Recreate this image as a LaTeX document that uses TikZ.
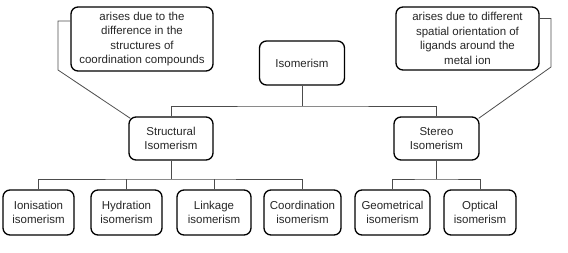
\documentclass[tikz,border=0pt]{standalone}
\usepackage{fontspec}
\setmainfont{Liberation Sans}
\begin{document}
\begin{tikzpicture}[x=1pt,y=-1pt,
  box/.style={draw=black,line width=1.3pt,rounded corners=7pt,align=center,
    inner sep=1pt,font=\fontsize{11.5}{14.5}\selectfont,text=black!85},
  conn/.style={draw=black!70,line width=0.8pt}]
\useasboundingbox (0,0) rectangle (568,253);
\node[box,minimum width=85pt,minimum height=44pt] (iso) at (302,63) {Isomerism};
\node[box,minimum width=142pt,minimum height=64pt] (noteL) at (142,39) {arises due to the\\difference in the\\structures of\\coordination compounds};
\node[box,minimum width=143pt,minimum height=63pt] (noteR) at (467.5,38.5) {arises due to different\\spatial orientation of\\ligands around the\\metal ion};
\node[box,minimum width=84pt,minimum height=43pt] (struct) at (171,138.5) {Structural\\Isomerism};
\node[box,minimum width=85pt,minimum height=43pt] (stereo) at (436.5,138.5) {Stereo\\Isomerism};
\node[box,minimum width=71pt,minimum height=45pt] (ion) at (38.5,212.5) {Ionisation\\isomerism};
\node[box,minimum width=71pt,minimum height=45pt] (hyd) at (126.5,212.5) {Hydration\\isomerism};
\node[box,minimum width=74pt,minimum height=45pt] (link) at (214,212.5) {Linkage\\isomerism};
\node[box,minimum width=77pt,minimum height=45pt] (coord) at (302.5,212.5) {Coordination\\isomerism};
\node[box,minimum width=75pt,minimum height=45pt] (geo) at (392.5,212.5) {Geometrical\\isomerism};
\node[box,minimum width=72pt,minimum height=45pt] (opt) at (480,212.5) {Optical\\isomerism};
\coordinate (j1) at (302,106);
\coordinate (j2) at (171,179);
\coordinate (j3) at (436.5,179);
\coordinate (cl) at (58,70);
\coordinate (cr) at (551,67);
\draw[conn] (iso.south) -- (j1);
\draw[conn] (struct.north) |- (j1) -| (stereo.north);
\draw[conn] (struct.south) -- (j2);
\draw[conn] (ion.north) |- (j2) -| (coord.north);
\draw[conn] (hyd.north) -- (hyd.north |- j2);
\draw[conn] (link.north) -- (link.north |- j2);
\draw[conn] (stereo.south) -- (j3);
\draw[conn] (geo.north) |- (j3) -| (opt.north);
\draw[conn] ([yshift=18pt]noteL.west) -| (cl) -- ([shift={(2pt,-2pt)}]struct.north west);
\draw[conn] ([yshift=20pt]noteR.east) -| (cr) -- ([shift={(-1pt,-2pt)}]stereo.north east);
\end{tikzpicture}
\end{document}
